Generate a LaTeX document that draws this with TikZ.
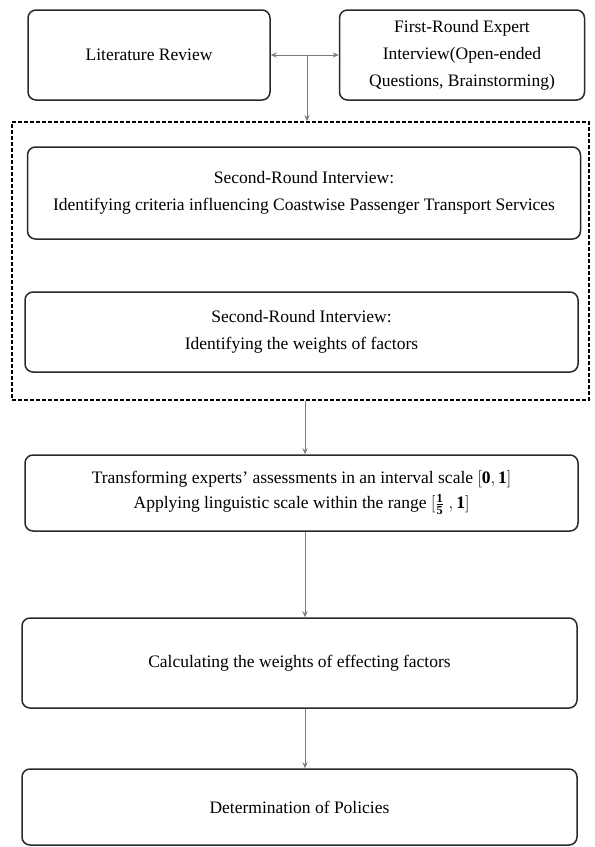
\documentclass[tikz,border=0pt]{standalone}
\usepackage{fontspec}
\usepackage{amsmath}
\setmainfont{Liberation Serif}
\usetikzlibrary{arrows.meta}
\definecolor{arrgray}{HTML}{7A7A7A}
\definecolor{boxline}{HTML}{2A2A2A}
\begin{document}
\begin{tikzpicture}[x=1pt,y=-1pt,
  stagebox/.style={draw=boxline, line width=1.5pt, rounded corners=8pt, align=center,
     inner sep=2pt, font=\fontsize{17.5}{27}\selectfont},
  groupbox/.style={draw=black, line width=1.6pt, dash pattern=on 4pt off 2pt, inner sep=0pt},
  arr/.style={draw=arrgray, line width=0.8pt, -{Stealth[length=6pt,width=5pt]}},
  darr/.style={draw=arrgray, line width=0.8pt, {Stealth[length=6pt,width=5pt]}-{Stealth[length=6pt,width=5pt]}}
]
\useasboundingbox (0,0) rectangle (595,847);
\fill[white] (0,0) rectangle (595,847);

\node[stagebox, minimum width=242pt, minimum height=90pt] (lit) at (149,55) {Literature Review};
\node[stagebox, minimum width=245pt, minimum height=90pt, inner sep=0pt] (first) at (462,55)
  {First-Round Expert\\Interview(Open-ended\\Questions, Brainstorming)};

\node[groupbox, minimum width=577pt, minimum height=278pt] (grp) at (300.5,261) {};

\node[stagebox, minimum width=553pt, minimum height=92pt] (crit) at (304,193)
  {Second-Round Interview:\\Identifying criteria influencing Coastwise Passenger Transport Services};
\node[stagebox, minimum width=553pt, minimum height=80pt] (wts) at (301.5,332)
  {Second-Round Interview:\\Identifying the weights of factors};

\node[stagebox, minimum width=553pt, minimum height=76pt, inner sep=0pt] (trans) at (301.5,493)
  {Transforming experts' assessments in an interval scale $[\mathbf{0},\mathbf{1}]$\\[-2pt]
   Applying linguistic scale within the range $[\genfrac{}{}{0.4pt}{1}{\mathbf{1}}{\mathbf{5}}\;,\mathbf{1}]$};
\node[stagebox, minimum width=555pt, minimum height=90pt] (calc) at (299.5,663)
  {Calculating the weights of effecting factors};
\node[stagebox, minimum width=555pt, minimum height=76pt] (pol) at (299.5,807)
  {Determination of Policies};

\draw[darr] (lit.east) -- (first.west);
\coordinate (j) at (307,55);
\draw[arr] (j) -- (j |- grp.north);
\coordinate (k) at (305,400);
\draw[arr] (k |- grp.south) -- (k |- trans.north);
\draw[arr] (k |- trans.south) -- (k |- calc.north);
\draw[arr] (k |- calc.south) -- (k |- pol.north);
\end{tikzpicture}
\end{document}
